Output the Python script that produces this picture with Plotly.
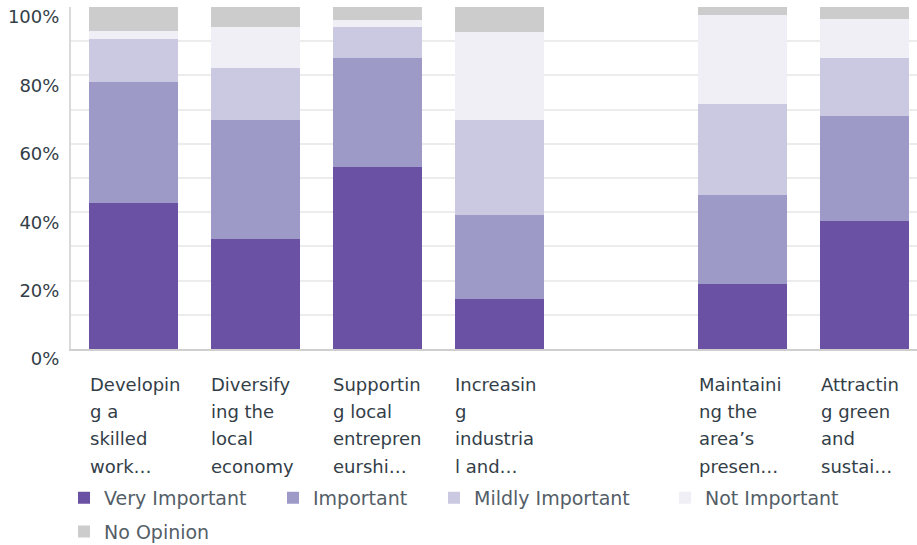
import plotly.graph_objects as go

# ---- data ----
categories = [
    "Developin\ng a\nskilled\nwork…",
    "Diversify\ning the\nlocal\neconomy",
    "Supportin\ng local\nentrepren\neurshi…",
    "Increasin\ng\nindustria\nl and…",
    "",
    "Maintaini\nng the\narea’s\npresen…",
    "Attractin\ng green\nand\nsustai…",
]
very_important = [42.8, 32.2, 53.2, 14.6, None, 19.0, 37.4]
important = [35.3, 34.8, 31.9, 24.6, None, 26.0, 30.7]
mildly_important = [12.5, 15.2, 9.1, 27.8, None, 26.6, 17.0]
not_important = [2.4, 12.0, 2.0, 25.7, None, 26.2, 11.4]
no_opinion = [7.0, 5.8, 3.8, 7.3, None, 2.2, 3.5]

series_names = ["Very Important", "Important", "Mildly Important", "Not Important", "No Opinion"]
series_values = [very_important, important, mildly_important, not_important, no_opinion]
colors = ["#6a51a3", "#9e9ac8", "#cbc9e2", "#f0eff6", "#cccccc"]

y_ticks = [0, 20, 40, 60, 80, 100]
y_ticktext = [f"{v}%" for v in y_ticks]

FONT = "DejaVu Sans"
xpos = list(range(len(categories)))

# legend placement (container px x, container fraction y)
legend_pos = [(64, 0.1215), (273, 0.1215), (434, 0.1215), (665, 0.1215), (64, 0.0592)]

fig = go.Figure()
legend_layout = {}
for idx, (name, vals, col) in enumerate(zip(series_names, series_values, colors)):
    lid = "legend" if idx == 0 else f"legend{idx + 1}"
    fig.add_trace(go.Bar(x=xpos, y=vals, name=name, legend=lid,
                         marker=dict(color=col, line=dict(width=0)), hoverinfo="skip"))
    lx, ly = legend_pos[idx]
    legend_layout[lid] = dict(
        orientation="h", xref="container", yref="container", x=lx / 917, y=ly,
        xanchor="left", yanchor="top", bgcolor="rgba(0,0,0,0)",
        font=dict(family=FONT, size=19, color="#545e67"), itemwidth=30)

# category labels: one annotation per line, left-aligned at bar left edge
annotations = []
for i, lab in enumerate(categories):
    if not lab:
        continue
    for k, line in enumerate(lab.split("\n")):
        annotations.append(dict(
            x=i, xref="x", y=0, yref="paper", xanchor="left", yanchor="middle",
            xshift=-46, yshift=-(35 + k * 27.4), text=line, showarrow=False,
            font=dict(family=FONT, size=18, color="#333e48"), align="left"))

fig.update_layout(
    width=917, height=545,
    margin=dict(l=71, r=0, t=7, b=196, autoexpand=False),
    paper_bgcolor="white", plot_bgcolor="white",
    barmode="stack", bargap=0.269,
    font=dict(family=FONT, color="#333e48"),
    xaxis=dict(range=[-0.513, 6.43], showticklabels=False, showgrid=False, zeroline=False,
               showline=True, linecolor="#cfcfcf", linewidth=2, ticks="", automargin=False),
    yaxis=dict(range=[0, 100], tickvals=y_ticks, ticktext=y_ticktext, showgrid=True,
               gridcolor="#ececec", gridwidth=1.5, zeroline=False, automargin=False,
               showline=True, linecolor="#dadada", linewidth=2, ticks="",
               tickfont=dict(family=FONT, size=18, color="#333e48"),
               ticklabelstandoff=6, ticklabelshift=10, ticklabeloverflow="allow",
               minor=dict(dtick=10, showgrid=True, gridcolor="#ececec", gridwidth=1.5)),
    annotations=annotations,
    showlegend=True,
    **legend_layout,
)

fig.write_html("out.html", config={"displayModeBar": False},
               post_script="document.body.style.margin='0px';")
